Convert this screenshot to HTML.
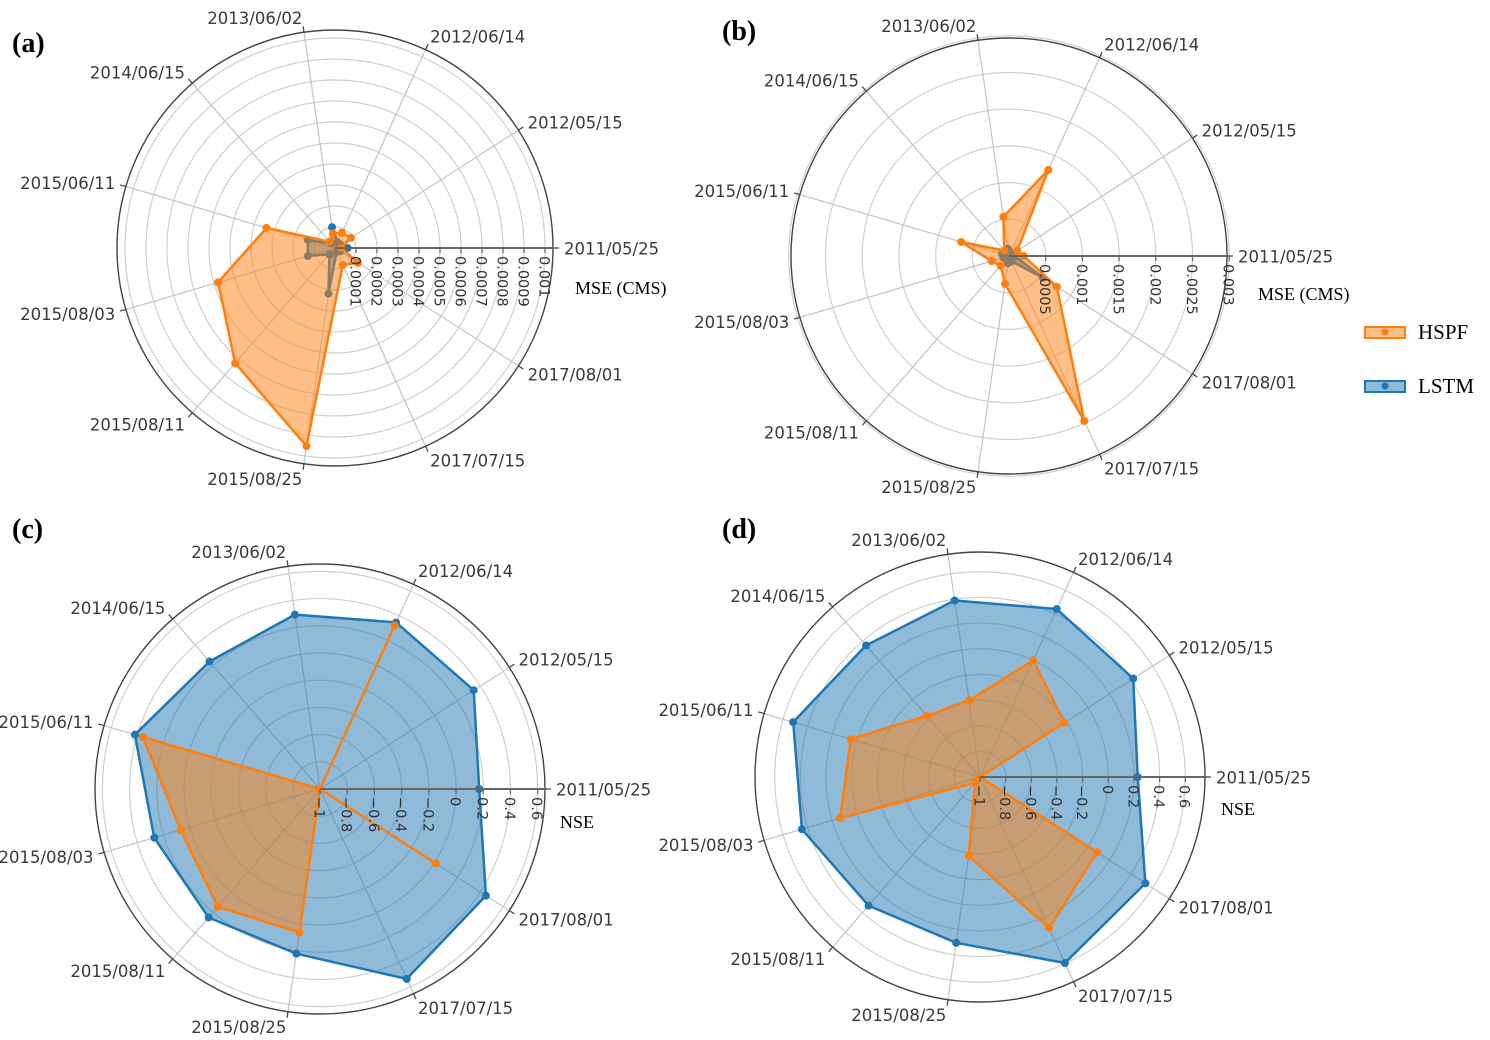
<!DOCTYPE html>
<html><head><meta charset="utf-8"><style>
html,body{margin:0;padding:0;background:#fff;}
svg{display:block;}
</style></head><body>
<svg id="chart" width="1490" height="1040" viewBox="0 0 1490 1040" xmlns="http://www.w3.org/2000/svg">
<rect x="0" y="0" width="1490" height="1040" fill="#fff"/>
<g id="panels"></g>
<g>
<g>
<rect x="1365" y="327" width="40" height="11" fill="#ff7f0e" fill-opacity="0.5" stroke="#ff7f0e" stroke-width="2"/>
<circle cx="1385" cy="332" r="3.5" fill="#ff7f0e"/>
<text x="1418" y="339" font-family="Liberation Serif, serif" font-size="21" fill="#000">HSPF</text>
</g>
<g>
<rect x="1365" y="381" width="40" height="11" fill="#1f77b4" fill-opacity="0.5" stroke="#1f77b4" stroke-width="2"/>
<circle cx="1385" cy="386" r="3.5" fill="#1f77b4"/>
<text x="1418" y="393" font-family="Liberation Serif, serif" font-size="21" fill="#000">LSTM</text>
</g>
</g>
</svg>
<script>
const categories = ["2011/05/25","2012/05/15","2012/06/14","2013/06/02","2014/06/15","2015/06/11","2015/08/03","2015/08/11","2015/08/25","2017/07/15","2017/08/01"];
const mseHspfA = [0.00003,0.00009,0.00008,0.00007,0.00004,0.00034,0.00058,0.000726,0.000953,0.000089,0.00013];
const mseLstmA = [0.00006,0.00003,0.00003,0.0001,0.00003,0.000135,0.000135,0.00004,0.00022,0.00002,0.00003];
const mseHspfB = [0.0002,0.000135,0.00129,0.00054,0.0001,0.00068,0.000245,0.000175,0.000384,0.00247,0.000775];
const mseLstmB = [0.00008,0.00005,0.00005,0.0001,0.00008,0.0001,0.00008,0.00005,0.0001,0.00008,0.00055];
const nseHspfC = [-1,-1,0.32,-1,-1,0.357,0.068,0.146,0.065,-1,0.012];
const nseLstmC = [0.17,0.343,0.346,0.295,0.24,0.418,0.27,0.25,0.223,0.535,0.45];
const nseHspfD = [-1,-0.219,0,-0.397,-0.368,0.049,0.137,-0.94,-0.379,0.295,0.085];
const nseLstmD = [0.229,0.42,0.44,0.39,0.357,0.518,0.447,0.327,0.306,0.594,0.533];
const mseTicksA = [0.0001,0.0002,0.0003,0.0004,0.0005,0.0006,0.0007,0.0008,0.0009,0.001];
const mseTickLabelsA = ["0.0001","0.0002","0.0003","0.0004","0.0005","0.0006","0.0007","0.0008","0.0009","0.001"];
const mseTicksB = [0.0005,0.001,0.0015,0.002,0.0025,0.003];
const mseTickLabelsB = ["0.0005","0.001","0.0015","0.002","0.0025","0.003"];
const nseTicks = [-1,-0.8,-0.6,-0.4,-0.2,0,0.2,0.4,0.6];
const nseTickLabels = ["\u22121","\u22120.8","\u22120.6","\u22120.4","\u22120.2","0","0.2","0.4","0.6"];

const NS = "http://www.w3.org/2000/svg";
const root = document.getElementById("panels");
function mk(tag, attrs, parent){
  const e = document.createElementNS(NS, tag);
  for (const k in attrs) e.setAttribute(k, attrs[k]);
  parent.appendChild(e);
  return e;
}
const panels = [
  {id:"a", label:"(a)", lx:12, ly:52, cx:335, cy:248, R:218, rmin:0, rmax:0.001038, ticks:mseTicksA, tickLabels:mseTickLabelsA, title:"MSE (CMS)", tx:575, ty:294, hspf:mseHspfA, lstm:mseLstmA},
  {id:"b", label:"(b)", lx:722, ly:40, cx:1009, cy:256, R:218, rmin:0, rmax:0.00297, ticks:mseTicksB, tickLabels:mseTickLabelsB, title:"MSE (CMS)", tx:1258, ty:300, hspf:mseHspfB, lstm:mseLstmB},
  {id:"c", label:"(c)", lx:12, ly:538, cx:320, cy:789, R:225, rmin:-1, rmax:0.654, ticks:nseTicks, tickLabels:nseTickLabels, title:"NSE", tx:560, ty:828, hspf:nseHspfC, lstm:nseLstmC},
  {id:"d", label:"(d)", lx:722, ly:538, cx:980, cy:777, R:225, rmin:-1, rmax:0.754, ticks:nseTicks, tickLabels:nseTickLabels, title:"NSE", tx:1221, ty:815, hspf:nseHspfD, lstm:nseLstmD}
];
function angleOf(i){ return i * 2 * Math.PI / categories.length; }
panels.forEach(p => {
  const g = mk("g", {}, root);
  
  
  const rScale = v => Math.max(0, (Math.max(v, p.rmin) - p.rmin) / (p.rmax - p.rmin) * p.R);
  const pt = (i, v) => { const a = angleOf(i), r = rScale(v); return [p.cx + r*Math.cos(a), p.cy - r*Math.sin(a)]; };
  p.ticks.forEach(t => {
    const r = rScale(t);
    if (r <= 0.5) return;
    const c = mk("circle", {cx:p.cx, cy:p.cy, r:r, fill:"none", stroke:"#cfcfcf", "stroke-width":1.2}, g);
    
    
  });
  categories.forEach((cat, i) => {
    const a = angleOf(i);
    const s = mk("line", {x1:p.cx, y1:p.cy, x2:p.cx + (p.R+6)*Math.cos(a), y2:p.cy - (p.R+6)*Math.sin(a), stroke:"#c4c4c4", "stroke-width":1.2}, g);
    
    
    const tk = mk("line", {x1:p.cx + p.R*Math.cos(a), y1:p.cy - p.R*Math.sin(a), x2:p.cx + (p.R+6)*Math.cos(a), y2:p.cy - (p.R+6)*Math.sin(a), stroke:"#444", "stroke-width":1.2}, g);
    
    
    const ca = Math.cos(a), sa = Math.sin(a);
    const lx = p.cx + (p.R+11)*ca, ly = p.cy - (p.R+11)*sa - sa*4 + 1;
    const anchor = Math.abs(ca) < 0.05 ? "middle" : (ca > 0 ? "start" : "end");
    const t = mk("text", {x:lx, y:ly, "text-anchor":anchor, "dominant-baseline":"central", "font-family":"DejaVu Sans, sans-serif", "font-size":16.5, fill:"#3a3a3a"}, g);
    t.textContent = cat;
    
    
  });
  const outer = mk("circle", {cx:p.cx, cy:p.cy, r:p.R, fill:"none", stroke:"#444", "stroke-width":1.4}, g);
  
  
  [["lstm", p.lstm, "#1f77b4"], ["hspf", p.hspf, "#ff7f0e"]].forEach(([name, vals, col]) => {
    const sg = mk("g", {}, g);
    
    
    const pts = vals.map((v, i) => pt(i, v));
    const d = "M" + pts.map(q => q[0].toFixed(1) + "," + q[1].toFixed(1)).join("L") + "Z";
    const poly = mk("path", {d:d, fill:col, "fill-opacity":0.5, stroke:col, "stroke-width":2.5, "stroke-linejoin":"round"}, sg);
    
    
    pts.forEach((q, i) => {
      const m = mk("circle", {cx:q[0], cy:q[1], r:4, fill:col}, sg);
      
      
    });
  });
  const ax = mk("line", {x1:p.cx, y1:p.cy, x2:p.cx + p.R, y2:p.cy, stroke:"#666", "stroke-width":2}, g);
  
  
  p.ticks.forEach((t, k) => {
    const x = p.cx + rScale(t);
    const tk = mk("line", {x1:x, y1:p.cy, x2:x, y2:p.cy + 5, stroke:"#666", "stroke-width":1.2}, g);
    
    
    const tl = mk("text", {x:0, y:0, transform:"translate(" + (x - 5.5) + "," + (p.cy + 8) + ") rotate(90)", "font-family":"DejaVu Sans, sans-serif", "font-size":14.5, fill:"#333", "text-anchor":"start"}, g);
    tl.textContent = p.tickLabels[k];
    
    
  });
  const ti = mk("text", {x:p.tx, y:p.ty, "font-family":"Liberation Serif, serif", "font-size":18, fill:"#000"}, g);
  ti.textContent = p.title;
  
  
  const pl = mk("text", {x:p.lx, y:p.ly, "font-family":"Liberation Serif, serif", "font-size":28, "font-weight":"bold", fill:"#000"}, g);
  pl.textContent = p.label;
  
  
});
</script>
</body></html>
